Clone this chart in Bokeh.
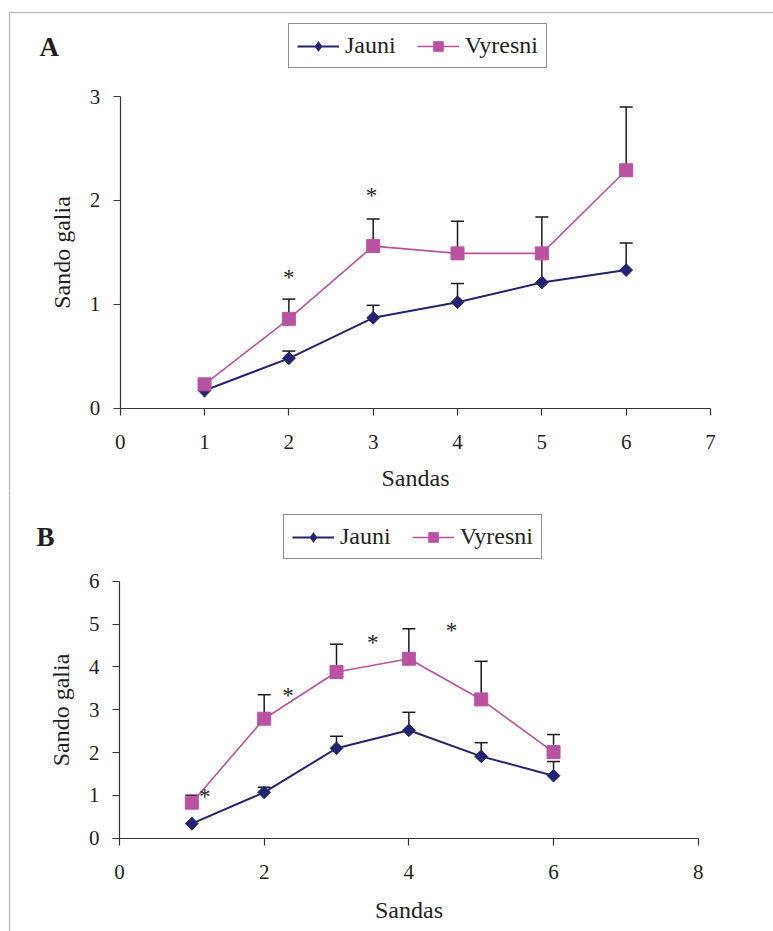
import numpy as np
from bokeh.plotting import figure
from bokeh.models import (Range1d, FixedTicker, Whisker, TeeHead, ColumnDataSource,
                          Legend, LegendItem, Label, BoxAnnotation)
from bokeh.layouts import column
from bokeh.embed import file_html
from bokeh.resources import INLINE
from bokeh.core.properties import value

# ---------------- data ----------------
days = [1, 2, 3, 4, 5, 6]

a_jauni = [0.17, 0.48, 0.87, 1.02, 1.21, 1.33]
a_jauni_err = [0.0, 0.07, 0.12, 0.18, 0.26, 0.26]
a_vyresni = [0.23, 0.86, 1.56, 1.49, 1.49, 2.29]
a_vyresni_err = [0.0, 0.19, 0.26, 0.31, 0.35, 0.61]
a_star_x = [2.0, 2.98]
a_star_y = [1.26, 2.05]

b_jauni = [0.34, 1.07, 2.10, 2.52, 1.91, 1.46]
b_jauni_err = [0.0, 0.12, 0.28, 0.42, 0.32, 0.33]
b_vyresni = [0.83, 2.79, 3.88, 4.19, 3.24, 2.01]
b_vyresni_err = [0.17, 0.56, 0.65, 0.70, 0.89, 0.41]
b_star_x = [1.18, 2.33, 3.50, 4.59]
b_star_y = [0.97, 3.33, 4.58, 4.85]

a_xticks = [0, 1, 2, 3, 4, 5, 6, 7]
a_yticks = [0, 1, 2, 3]
b_xticks = [0, 2, 4, 6, 8]
b_yticks = [0, 1, 2, 3, 4, 5, 6]

series_names = ["Jauni", "Vyresni"]
x_title = "Sandas"
y_title = "Sando galia"

FONT = "Liberation Serif"
NAVY = "#23236f"
PINK = "#ba52a2"
TXT = "#231f20"
W = 773


def panel(letter, H, xmax, ymax, xticks, yticks, origin, scale,
          jv, je, vv, ve, sx, sy, letter_px, legend_px, border_top_px,
          xlabel_standoff):
    x0, y0 = origin          # pixel position of data (0, 0) on this canvas
    kx, ky = scale           # pixels per data unit
    px2x = lambda px: (px - x0) / kx
    py2y = lambda py: (y0 - py) / ky

    p = figure(width=W, height=H, output_backend="svg", toolbar_location=None,
               x_range=Range1d(px2x(0), px2x(W)), y_range=Range1d(py2y(H), py2y(0)),
               min_border=0)
    p.outline_line_color = None
    p.grid.visible = False

    for ax, ticks, bnd in ((p.xaxis[0], xticks, (0, xmax)), (p.yaxis[0], yticks, (0, ymax))):
        ax.ticker = FixedTicker(ticks=ticks)
        ax.bounds = bnd
        ax.fixed_location = 0
        ax.minor_tick_line_color = None
        ax.major_tick_in = 0
        ax.major_tick_out = 7
        ax.axis_line_color = "#333333"
        ax.major_tick_line_color = "#333333"
        ax.axis_line_width = 1.2
        ax.major_tick_line_width = 1.2
        ax.major_label_text_font = FONT
        ax.major_label_text_font_size = "21px"
        ax.major_label_text_color = TXT
        ax.axis_label_text_font = FONT
        ax.axis_label_text_font_size = "24px"
        ax.axis_label_text_font_style = "normal"
        ax.axis_label_text_color = TXT
    p.xaxis.axis_label = x_title
    p.yaxis.axis_label = y_title
    p.xaxis.major_label_standoff = 20
    p.yaxis.major_label_standoff = 13
    p.xaxis.axis_label_standoff = xlabel_standoff
    p.yaxis.axis_label_standoff = 12

    # border lines of the figure box (left and top only)
    p.add_layout(BoxAnnotation(left=px2x(9), right=px2x(W + 20),
                               top=py2y(border_top_px), bottom=py2y(H + 20),
                               fill_color=None, line_color="#222222", line_width=1.3))

    # error bars (plus only), drawn below the markers
    for vals, errs in ((jv, je), (vv, ve)):
        xs = [d for d, e in zip(days, errs) if e > 0]
        lo = [v for v, e in zip(vals, errs) if e > 0]
        hi = [v + e for v, e in zip(vals, errs) if e > 0]
        src = ColumnDataSource(dict(x=xs, lo=lo, hi=hi))
        p.add_layout(Whisker(source=src, base="x", lower="lo", upper="hi",
                             line_color="#1a1a1a", line_width=1.5, level="underlay",
                             lower_head=None,
                             upper_head=TeeHead(size=13, line_color="#1a1a1a",
                                                line_width=1.5)))

    lj = p.line(days, jv, line_color=NAVY, line_width=2)
    # diamond used as the legend sample (hidden beneath the first real marker)
    mj_leg = p.scatter(days[:1], jv[:1], marker="diamond", size=13,
                       fill_color=NAVY, line_color=NAVY)
    p.scatter(days, jv, marker="square", angle=np.pi / 4, size=9,
              fill_color=NAVY, line_color=NAVY)
    lv = p.line(days, vv, line_color=PINK, line_width=1.6)
    mv = p.scatter(days, vv, marker="square", size=13, fill_color=PINK, line_color=PINK)

    p.text(sx, sy, text=["*"] * len(sx), text_font=value(FONT), text_font_size="23px",
           text_align="center", text_baseline="middle", text_color=TXT)

    p.add_layout(Label(x=px2x(letter_px[0]), y=py2y(letter_px[1]), text=letter,
                       text_font=FONT, text_font_size="27px", text_font_style="bold",
                       text_color=TXT, text_align="left", text_baseline="middle"))

    leg = Legend(items=[LegendItem(label=series_names[0], renderers=[lj, mj_leg]),
                        LegendItem(label=series_names[1], renderers=[lv, mv])],
                 location=(legend_px[0], H - legend_px[1]), orientation="horizontal",
                 label_text_font=FONT, label_text_font_size="24px", label_text_color=TXT,
                 border_line_color="#222222", border_line_width=1.2,
                 glyph_width=42, glyph_height=24, label_standoff=6, spacing=21,
                 padding=8, margin=0, background_fill_alpha=1)
    p.add_layout(leg)
    return p


H1, H2 = 490, 441
p1 = panel("A", H1, 7, 3, a_xticks, a_yticks, (119.7, 407.7), (84.33, 103.9),
           a_jauni, a_jauni_err, a_vyresni, a_vyresni_err, a_star_x, a_star_y,
           (39, 46), (288, 68), 12, 12)
p2 = panel("B", H2, 8, 6, b_xticks, b_yticks, (119.0, 347.7), (72.34, 42.83),
           b_jauni, b_jauni_err, b_vyresni, b_vyresni_err, b_star_x, b_star_y,
           (36, 46), (283, 69), -20, 14)

layout = column(p1, p2, spacing=0)
open("out.html", "w").write(file_html(layout, INLINE))
